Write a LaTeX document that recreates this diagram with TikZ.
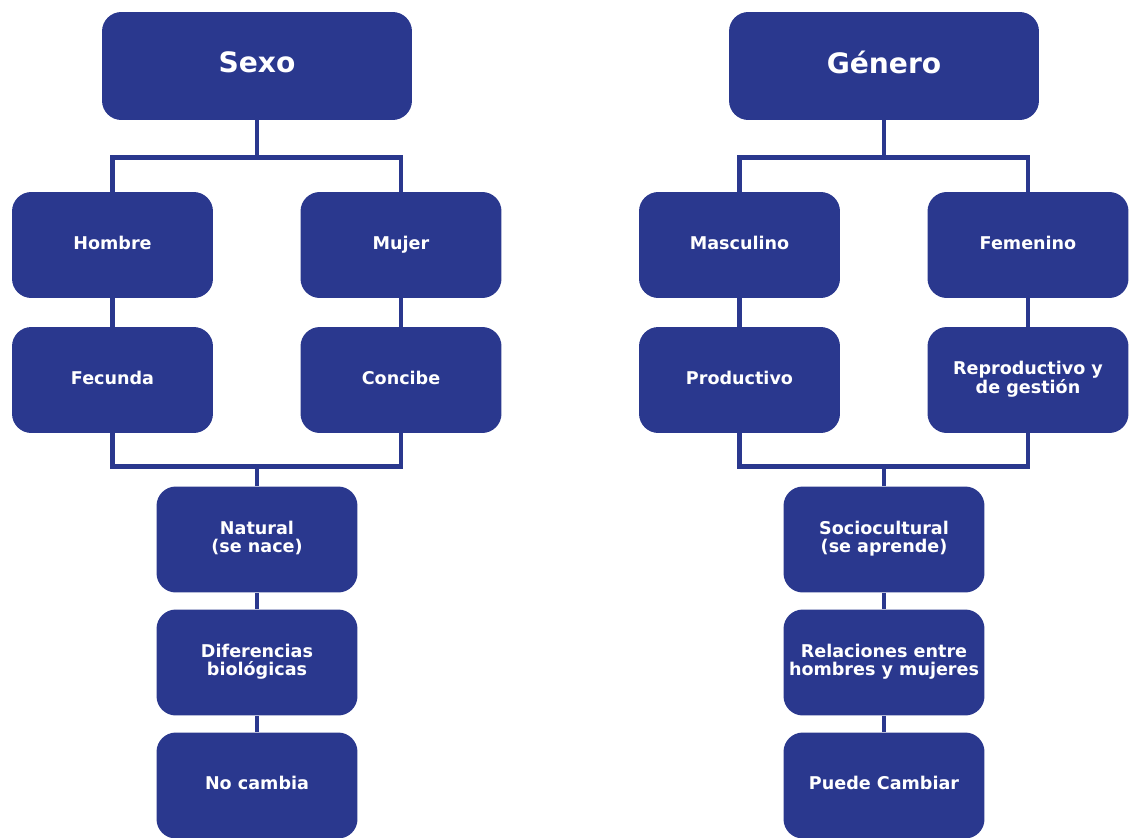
\documentclass[tikz,border=0pt]{standalone}
\usepackage{fontspec}
\setmainfont{DejaVu Sans}
\usetikzlibrary{positioning}

\definecolor{boxblue}{RGB}{42,56,142}

\tikzset{
  box/.style={fill=boxblue, rounded corners=11pt, text=white,
              font=\bfseries\fontsize{10}{10}\selectfont, align=center,
              minimum width=4.02cm, minimum height=2.12cm, inner sep=2pt,
              execute at begin node=\strut, execute at end node=\strut},
  bigbox/.style={box, minimum width=6.2cm, minimum height=2.16cm,
              font=\bfseries\fontsize{16}{16}\selectfont},
  link/.style={draw=boxblue, line width=2.8pt},
}

\begin{document}
\begin{tikzpicture}[x=0.02cm,y=-0.02cm]

\pgfmathsetmacro{\shiftR}{627}
\pgfmathsetmacro{\colA}{112.5}
\pgfmathsetmacro{\colB}{401}
\pgfmathsetmacro{\colM}{257}

\useasboundingbox (0,0) rectangle (1132,838);

% SEXO

\node(sexo)[bigbox] at (\colM,66) {Sexo};

\node(hombre)[box]  at (\colA,245) {Hombre};
\node(mujer)[box]   at (\colB,245) {Mujer};
\node(fecunda)[box] at (\colA,380) {Fecunda};
\node(concibe)[box] at (\colB,380) {Concibe};

\node(natural)[box]     at (\colM,539.5) {Natural\\(se nace)};
\node(diferencias)[box] at (\colM,662.5) {Diferencias\\biológicas};
\node(nocambia)[box]    at (\colM,785.5) {No cambia};

\draw[link] (sexo.south) -- ++(0,37) coordinate (sexoJ);
\draw[link] (hombre.north) |- (sexoJ) -| (mujer.north);
\draw[link] (hombre.south) -- (fecunda.north);
\draw[link] (mujer.south) -- (concibe.north);
\draw[link] (natural.north) -- ++(0,-20) coordinate (naturalJ);
\draw[link] (fecunda.south) |- (naturalJ) -| (concibe.south);
\draw[link] (natural.south) -- (diferencias.north);
\draw[link] (diferencias.south) -- (nocambia.north);

% GENERO

\begin{scope}[shift={(\shiftR,0)}]

\node(genero)[bigbox] at (\colM,66) {Género};

\node(masculino)[box]    at (\colA,245) {Masculino};
\node(femenino)[box]     at (\colB,245) {Femenino};
\node(productivo)[box]   at (\colA,380) {Productivo};
\node(reproductivo)[box] at (\colB,380) {Reproductivo y\\de gestión};

\node(sociocultural)[box] at (\colM,539.5) {Sociocultural\\(se aprende)};
\node(relaciones)[box]    at (\colM,662.5) {Relaciones entre\\hombres y mujeres};
\node(puede)[box]         at (\colM,785.5) {Puede Cambiar};

\draw[link] (genero.south) -- ++(0,37) coordinate (generoJ);
\draw[link] (masculino.north) |- (generoJ) -| (femenino.north);
\draw[link] (masculino.south) -- (productivo.north);
\draw[link] (femenino.south) -- (reproductivo.north);
\draw[link] (sociocultural.north) -- ++(0,-20) coordinate (socioJ);
\draw[link] (productivo.south) |- (socioJ) -| (reproductivo.south);
\draw[link] (sociocultural.south) -- (relaciones.north);
\draw[link] (relaciones.south) -- (puede.north);

\end{scope}

\end{tikzpicture}
\end{document}
